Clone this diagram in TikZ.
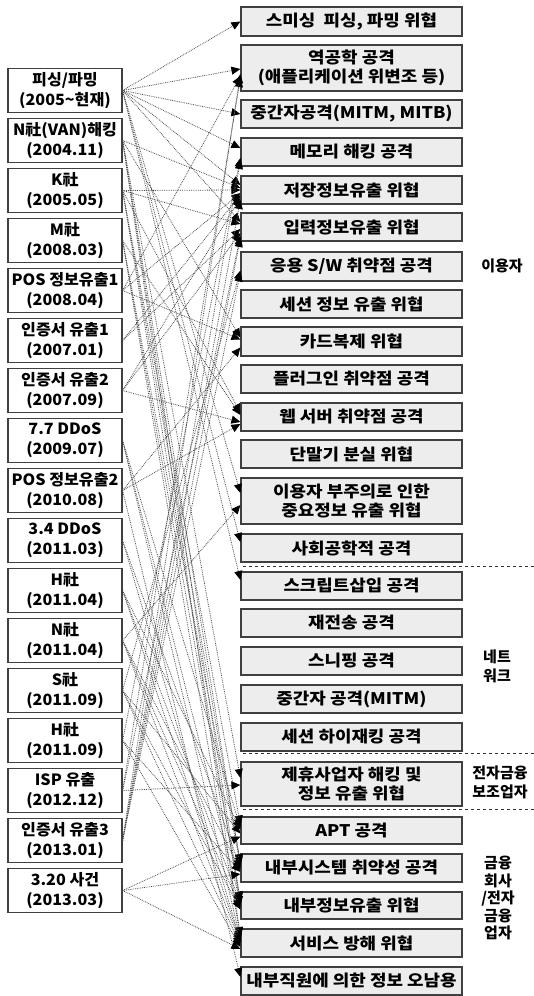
\documentclass[tikz,border=0pt]{standalone}
\usepackage{fontspec}
\setmainfont{Noto Sans CJK KR}
\newfontfamily\rfont{Noto Sans CJK KR}[FakeStretch=1.12]
\newfontfamily\lfont{Noto Sans CJK KR}[FakeStretch=1.04]
\usetikzlibrary{arrows.meta}
\tikzset{
  box/.style={draw=black!75, line width=1.2pt, inner sep=0pt, align=center},
  lbox/.style={box, fill=white, minimum width=114pt, minimum height=44pt,
    font=\lfont\fontsize{15.5}{20}\selectfont\bfseries},
  rbox/.style={box, fill=black!7, minimum width=221pt,
    font=\rfont\fontsize{16}{19}\selectfont\bfseries},
  side/.style={align=center, font=\fontsize{15}{19}\selectfont\bfseries},
  conn/.style={densely dotted, draw=black!70, line width=0.8pt,
    -{Triangle[length=9pt,width=8pt,black]}},
  sep/.style={dashed, line width=0.9pt, draw=black!80}
}
\begin{document}
\begin{tikzpicture}[x=1pt,y=-1pt]
\useasboundingbox (0,0) rectangle (534,996);
% left boxes
\node[lbox] (L1) at (65,90.5) {피싱/파밍\\(2005\textasciitilde 현재)};
\node[lbox] (L2) at (65,140.5) {N社(VAN)해킹\\(2004.11)};
\node[lbox] (L3) at (65,190.5) {K社\\(2005.05)};
\node[lbox] (L4) at (65,240.5) {M社\\(2008.03)};
\node[lbox] (L5) at (65,290.5) {POS 정보유출1\\(2008.04)};
\node[lbox] (L6) at (65,340.5) {인증서 유출1\\(2007.01)};
\node[lbox] (L7) at (65,390.5) {인증서 유출2\\(2007.09)};
\node[lbox] (L8) at (65,440.5) {7.7 DDoS\\(2009.07)};
\node[lbox] (L9) at (65,490.5) {POS 정보유출2\\(2010.08)};
\node[lbox] (L10) at (65,540.5) {3.4 DDoS\\(2011.03)};
\node[lbox] (L11) at (65,590.5) {H社\\(2011.04)};
\node[lbox] (L12) at (65,640.5) {N社\\(2011.04)};
\node[lbox] (L13) at (65,690.5) {S社\\(2011.09)};
\node[lbox] (L14) at (65,740.5) {H社\\(2011.09)};
\node[lbox] (L15) at (65,790.5) {ISP 유출\\(2012.12)};
\node[lbox] (L16) at (65,840.5) {인증서 유출3\\(2013.01)};
\node[lbox] (L17) at (65,890.5) {3.20 사건\\(2013.03)};
% right boxes
\node[rbox, minimum height=29pt] (R1) at (351.5,21.5) {스미싱\ \ 피싱, 파밍 위협};
\node[rbox, minimum height=46pt] (R2) at (351.5,68) {역공학 공격\\(애플리케이션 위변조 등)};
\node[rbox, minimum height=28pt] (R3) at (351.5,114) {중간자공격(MITM, MITB)};
\node[rbox, minimum height=28pt] (R4) at (351.5,152) {메모리 해킹 공격};
\node[rbox, minimum height=28pt] (R5) at (351.5,190) {저장정보유출 위협};
\node[rbox, minimum height=28pt] (R6) at (351.5,227) {입력정보유출 위협};
\node[rbox, minimum height=29pt] (R7) at (351.5,266.5) {응용 S/W 취약점 공격};
\node[rbox, minimum height=28pt] (R8) at (351.5,304) {세션 정보 유출 위협};
\node[rbox, minimum height=29pt] (R9) at (351.5,341.5) {카드복제 위협};
\node[rbox, minimum height=28pt] (R10) at (351.5,379) {플러그인 취약점 공격};
\node[rbox, minimum height=28pt] (R11) at (351.5,417) {웹 서버 취약점 공격};
\node[rbox, minimum height=28pt] (R12) at (351.5,454) {단말기 분실 위협};
\node[rbox, minimum height=46pt] (R13) at (351.5,501) {이용자 부주의로 인한\\중요정보 유출 위협};
\node[rbox, minimum height=28pt] (R14) at (351.5,548) {사회공학적 공격};
\node[rbox, minimum height=28pt] (R15) at (351.5,586) {스크립트삽입 공격};
\node[rbox, minimum height=28pt] (R16) at (351.5,623) {재전송 공격};
\node[rbox, minimum height=28pt] (R17) at (351.5,661) {스니핑 공격};
\node[rbox, minimum height=28pt] (R18) at (351.5,699) {중간자 공격(MITM)};
\node[rbox, minimum height=28pt] (R19) at (351.5,737) {세션 하이재킹 공격};
\node[rbox, minimum height=44pt] (R20) at (351.5,784) {제휴사업자 해킹 및\\정보 유출 위협};
\node[rbox, minimum height=27pt] (R21) at (351.5,830.5) {APT 공격};
\node[rbox, minimum height=28pt] (R22) at (351.5,868) {내부시스템 취약성 공격};
\node[rbox, minimum height=27pt] (R23) at (351.5,905.5) {내부정보유출 위협};
\node[rbox, minimum height=28pt] (R24) at (351.5,943) {서비스 방해 위협};
\node[rbox, minimum height=28pt] (R25) at (351.5,981) {내부직원에 의한 정보 오남용};
% side labels
\node[side] (S1) at (502,266) {이용자};
\node[side] (S2) at (497,666) {네트\\워크};
\node[side] (S3) at (500,782) {전자금융\\보조업자};
\node[side, font=\fontsize{15}{17.5}\selectfont\bfseries] (S4) at (498,898) {금융\\회사\\/전자\\금융\\업자};
% separators
\draw[sep] (243,566) -- (534,566);
\draw[sep] (243,753) -- (534,753);
\draw[sep] (243,809) -- (534,809);
% connectors
\foreach \a/\b/\s in {
 1/1/0, 1/2/-1, 1/3/0, 1/4/4, 1/5/5, 1/6/5, 1/13/8, 1/14/6, 1/15/6,
 2/5/2, 2/9/4, 2/20/6, 2/22/4, 2/23/4, 2/24/7,
 3/5/0, 3/6/3, 3/11/4, 3/21/6, 3/22/5, 3/23/0,
 4/11/2, 4/22/2, 4/23/5, 4/24/6,
 5/2/-8, 5/5/-3, 5/9/2,
 6/5/-5, 6/6/-2,
 7/5/-8, 7/6/-6, 7/11/-5,
 8/24/4, 8/21/3, 8/23/3,
 9/9/-6, 9/11/-7, 9/25/4,
 10/24/2, 10/22/0,
 11/23/2, 11/21/1, 11/24/1,
 12/13/-4, 12/22/-2, 12/23/-2, 12/24/0,
 13/7/-4, 13/21/-3, 13/23/-4, 13/24/-2,
 14/4/-6, 14/22/-4, 14/24/-4,
 15/20/-1, 15/6/-9, 15/2/-10,
 16/2/-6, 16/5/-10, 16/6/-11, 16/7/-6, 16/4/-8,
 17/21/-6, 17/22/-6, 17/24/-6}
 \draw[conn] (L\a.east) -- ([yshift=\s pt]R\b.west);
\end{tikzpicture}
\end{document}
